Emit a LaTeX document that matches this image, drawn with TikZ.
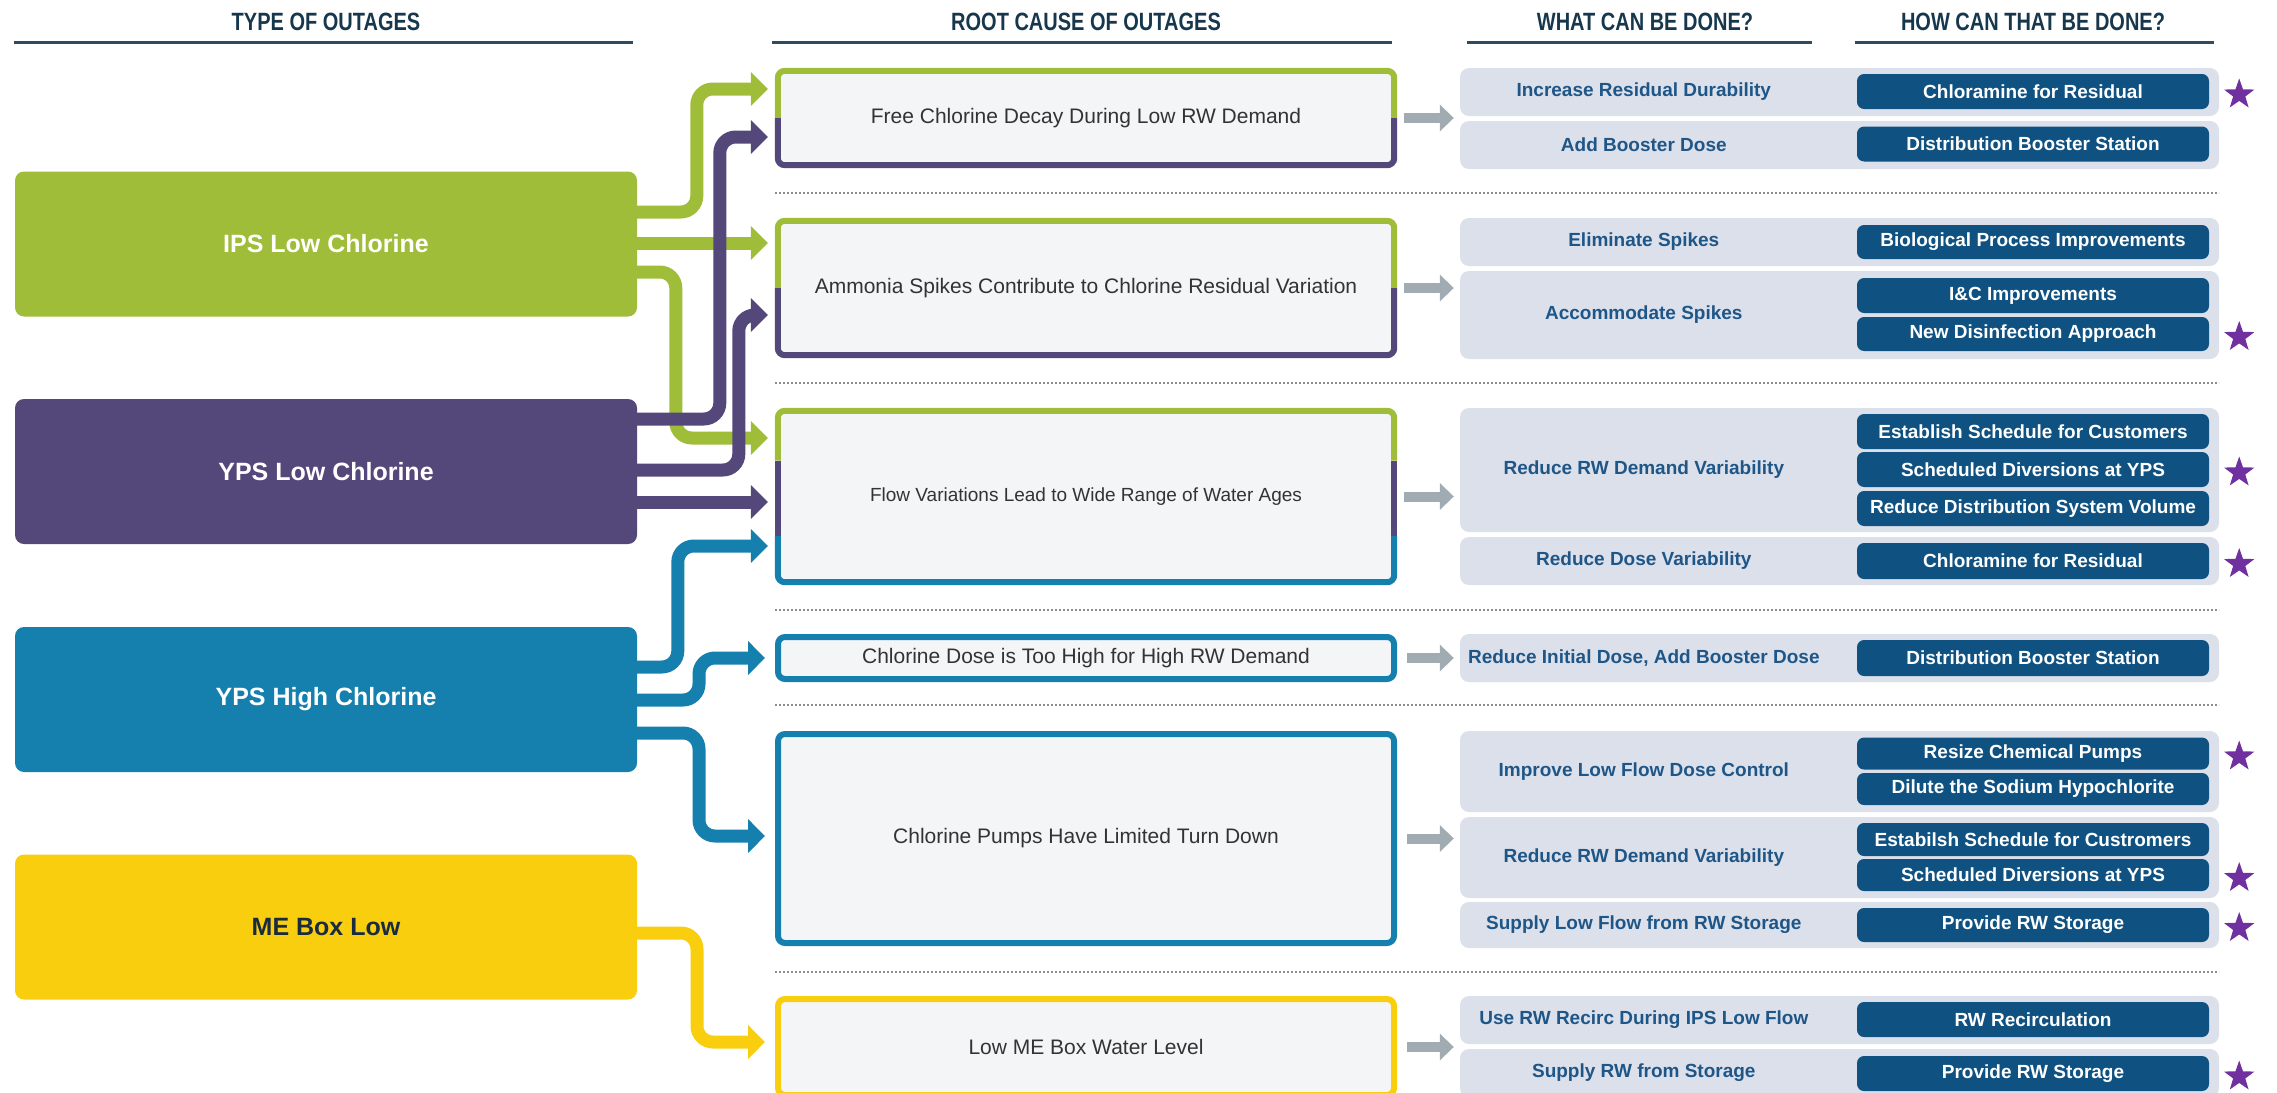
\documentclass[tikz,border=0pt]{standalone}
\usepackage{fontspec}
\setmainfont{Liberation Sans}
\newfontfamily\headfont[FakeStretch=0.8]{Liberation Sans}
\usetikzlibrary{arrows.meta,calc,shapes.geometric}

\definecolor{cgreen}{HTML}{A0BD3A}
\definecolor{cpurple}{HTML}{54477A}
\definecolor{cblue}{HTML}{1580AE}
\definecolor{cyellow}{HTML}{F8CE0E}
\definecolor{navy}{HTML}{17374D}
\definecolor{rulecol}{HTML}{2E4B5F}
\definecolor{boxfill}{HTML}{F4F5F7}
\definecolor{panelcol}{HTML}{DCE0EA}
\definecolor{btncol}{HTML}{0F5282}
\definecolor{whatcol}{HTML}{1F5688}
\definecolor{garrow}{HTML}{A1ACB2}
\definecolor{cstar}{HTML}{7030A0}
\definecolor{sepcol}{HTML}{8C8C8C}
\definecolor{rctext}{HTML}{333333}
\definecolor{metext}{HTML}{1A2B40}

\tikzset{
  head/.style={text=navy, font=\headfont\bfseries\fontsize{25}{28}\selectfont},
  headrule/.style={rulecol, line width=3pt},
  outage/.style={rounded corners=9pt, minimum width=622pt, minimum height=145pt,
    inner sep=0pt, text=white, font=\bfseries\fontsize{25}{30}\selectfont},
  cause/.style={fill=boxfill, rounded corners=7pt, minimum width=616pt, inner sep=0pt,
    text=rctext, font=\fontsize{21}{25}\selectfont},
  border/.style={line width=6pt, rounded corners=7pt},
  flow/.style={line width=13pt, rounded corners=16pt, -{Triangle[width=33pt,length=17pt]}},
  nextarrow/.style={garrow, line width=10pt, -{Triangle[width=26pt,length=14pt]}},
  panelbox/.style={fill=panelcol, rounded corners=9pt, minimum width=759pt, inner sep=0pt},
  what/.style={text=whatcol, font=\bfseries\fontsize{19}{22}\selectfont},
  btnbox/.style={fill=btncol, rounded corners=7pt, minimum width=352pt, inner sep=0pt,
    text=white, font=\bfseries\fontsize{19}{22}\selectfont},
  fav/.style={star, star points=5, star point ratio=2.5, fill=cstar, minimum size=32pt, inner sep=0pt},
  sepline/.style={sepcol, line width=1.5pt, dash pattern=on 2pt off 2pt},
}

\begin{document}
\begin{tikzpicture}[x=1pt,y=-1pt]
\useasboundingbox (0,0) rectangle (2277,1092);
\clip (0,0) rectangle (2277,1092);

% column headings
\node[head] (h1) at (326,22) {TYPE OF OUTAGES};
\node[head] (h2) at (1086,22) {ROOT CAUSE OF OUTAGES};
\node[head] (h3) at (1645,22) {WHAT CAN BE DONE?};
\node[head] (h4) at (2033,22) {HOW CAN THAT BE DONE?};
\draw[headrule] (14,42) -- (633,42);
\draw[headrule] (772,42) -- (1392,42);
\draw[headrule] (1467,42) -- (1812,42);
\draw[headrule] (1855,42) -- (2214,42);

% group separators
\foreach \yy in {193,383,610,705,972}
  \draw[sepline] (775,\yy) -- (2219,\yy);

% outage types
\node[outage, fill=cgreen] (ips) at (326,244) {IPS Low Chlorine};
\node[outage, fill=cpurple] (ypsl) at (326,471.5) {YPS Low Chlorine};
\node[outage, fill=cblue] (ypsh) at (326,699.5) {YPS High Chlorine};
\node[outage, fill=cyellow, text=metext] (me) at (326,927) {ME Box Low};

% root causes
\node[cause, minimum height=94pt] (rc1) at (1086,118) {Free Chlorine Decay During Low RW Demand};
\node[cause, minimum height=134pt] (rc2) at (1086,288) {Ammonia Spikes Contribute to Chlorine Residual Variation};
\node[cause, minimum height=171pt, font=\fontsize{19}{23}\selectfont] (rc3) at (1086,496.5) {Flow Variations Lead to Wide Range of Water Ages};
\node[cause, minimum height=42pt, draw=cblue, line width=6pt] (rc4) at (1086,658) {Chlorine Dose is Too High for High RW Demand};
\node[cause, minimum height=209pt, draw=cblue, line width=6pt] (rc5) at (1086,838.5) {Chlorine Pumps Have Limited Turn Down};
\node[cause, minimum height=96pt, draw=cyellow, line width=6pt] (rc6) at (1086,1047) {Low ME Box Water Level};

% two- and three-colour borders
\draw[border, cgreen] ($(rc1.north west)!0.5!(rc1.south west)$) |- (rc1.north) -| ($(rc1.north east)!0.5!(rc1.south east)$);
\draw[border, cpurple] ($(rc1.north west)!0.5!(rc1.south west)$) |- (rc1.south) -| ($(rc1.north east)!0.5!(rc1.south east)$);
\draw[border, cgreen] ($(rc2.north west)!0.5!(rc2.south west)$) |- (rc2.north) -| ($(rc2.north east)!0.5!(rc2.south east)$);
\draw[border, cpurple] ($(rc2.north west)!0.5!(rc2.south west)$) |- (rc2.south) -| ($(rc2.north east)!0.5!(rc2.south east)$);
\draw[border, cgreen] ($(rc3.north west)!0.29!(rc3.south west)$) |- (rc3.north) -| ($(rc3.north east)!0.29!(rc3.south east)$);
\draw[border, cpurple] ($(rc3.north west)!0.29!(rc3.south west)$) -- ($(rc3.north west)!0.73!(rc3.south west)$);
\draw[border, cpurple] ($(rc3.north east)!0.29!(rc3.south east)$) -- ($(rc3.north east)!0.73!(rc3.south east)$);
\draw[border, cblue] ($(rc3.north west)!0.73!(rc3.south west)$) |- (rc3.south) -| ($(rc3.north east)!0.73!(rc3.south east)$);

% connectors from outage types to root causes
\draw[flow, cgreen] ($(ips.east)+(0,-32)$) -| ($(rc1.west)+(-81,-29)$) -- ($(rc1.west)+(-10,-29)$);
\draw[flow, cgreen] ($(ips.east)+(0,-1)$) -- ($(rc2.west)+(-10,-45)$);
\draw[flow, cgreen] ($(ips.east)+(0,28)$) -| ($(rc3.west)+(-102,-58.5)$) -- ($(rc3.west)+(-10,-58.5)$);
\draw[flow, cpurple] ($(ypsl.east)+(0,-52.5)$) -| ($(rc1.west)+(-58,19)$) -- ($(rc1.west)+(-10,19)$);
\draw[flow, cpurple] ($(ypsl.east)+(0,-1.5)$) -| ($(rc2.west)+(-39,27)$) -- ($(rc2.west)+(-10,27)$);
\draw[flow, cpurple] ($(ypsl.east)+(0,30.5)$) -- ($(rc3.west)+(-10,5.5)$);
\draw[flow, cblue] ($(ypsh.east)+(0,-32.5)$) -| ($(rc3.west)+(-100,49.5)$) -- ($(rc3.west)+(-10,49.5)$);
\draw[flow, cblue] ($(ypsh.east)+(0,0.5)$) -| ($(rc4.west)+(-76,0)$) -- ($(rc4.west)+(-10,0)$);
\draw[flow, cblue] ($(ypsh.east)+(0,33.5)$) -| ($(rc5.west)+(-76,-2.5)$) -- ($(rc5.west)+(-10,-2.5)$);
\draw[flow, cyellow] ($(me.east)+(0,6)$) -| ($(rc6.west)+(-78,-5)$) -- ($(rc6.west)+(-10,-5)$);

% what can be done
\node[panelbox, minimum height=48pt] (a1) at (1839.5,92) {};
\node[panelbox, minimum height=48pt] (a2) at (1839.5,145) {};
\node[panelbox, minimum height=48pt] (a3) at (1839.5,242) {};
\node[panelbox, minimum height=88pt] (a4) at (1839.5,315) {};
\node[panelbox, minimum height=124pt] (a5) at (1839.5,470) {};
\node[panelbox, minimum height=48pt] (a6) at (1839.5,561) {};
\node[panelbox, minimum height=48pt] (a7) at (1839.5,658) {};
\node[panelbox, minimum height=81pt] (a8) at (1839.5,771.5) {};
\node[panelbox, minimum height=81pt] (a9) at (1839.5,857.5) {};
\node[panelbox, minimum height=46pt] (a10) at (1839.5,925) {};
\node[panelbox, minimum height=48pt] (a11) at (1839.5,1020) {};
\node[panelbox, minimum height=48pt] (a12) at (1839.5,1073) {};

\node[what] (w1) at ($(a1.west)+(184,0)$) {Increase Residual Durability};
\node[what] (w2) at ($(a2.west)+(184,0)$) {Add Booster Dose};
\node[what] (w3) at ($(a3.west)+(184,0)$) {Eliminate Spikes};
\node[what] (w4) at ($(a4.west)+(184,0)$) {Accommodate Spikes};
\node[what] (w5) at ($(a5.west)+(184,0)$) {Reduce RW Demand Variability};
\node[what] (w6) at ($(a6.west)+(184,0)$) {Reduce Dose Variability};
\node[what] (w7) at ($(a7.west)+(184,0)$) {Reduce Initial Dose, Add Booster Dose};
\node[what] (w8) at ($(a8.west)+(184,0)$) {Improve Low Flow Dose Control};
\node[what] (w9) at ($(a9.west)+(184,0)$) {Reduce RW Demand Variability};
\node[what] (w10) at ($(a10.west)+(184,0)$) {Supply Low Flow from RW Storage};
\node[what] (w11) at ($(a11.west)+(184,0)$) {Use RW Recirc During IPS Low Flow};
\node[what] (w12) at ($(a12.west)+(184,0)$) {Supply RW from Storage};

% how can that be done
\node[btnbox, minimum height=35pt] (b1) at (2033,91.5) {Chloramine for Residual};
\node[btnbox, minimum height=35pt] (b2) at (2033,144) {Distribution Booster Station};
\node[btnbox, minimum height=34pt] (b3) at (2033,242) {Biological Process Improvements};
\node[btnbox, minimum height=35pt] (b4) at (2033,295.5) {I\&C Improvements};
\node[btnbox, minimum height=34pt] (b5) at (2033,334) {New Disinfection Approach};
\node[btnbox, minimum height=35pt] (b6) at (2033,431.5) {Establish Schedule for Customers};
\node[btnbox, minimum height=35pt] (b7) at (2033,469.5) {Scheduled Diversions at YPS};
\node[btnbox, minimum height=35pt] (b8) at (2033,508.5) {Reduce Distribution System Volume};
\node[btnbox, minimum height=36pt] (b9) at (2033,561) {Chloramine for Residual};
\node[btnbox, minimum height=36pt] (b10) at (2033,658) {Distribution Booster Station};
\node[btnbox, minimum height=32pt] (b11) at (2033,753.5) {Resize Chemical Pumps};
\node[btnbox, minimum height=32pt] (b12) at (2033,789) {Dilute the Sodium Hypochlorite};
\node[btnbox, minimum height=33pt] (b13) at (2033,839.5) {Estabilsh Schedule for Custromers};
\node[btnbox, minimum height=32pt] (b14) at (2033,875) {Scheduled Diversions at YPS};
\node[btnbox, minimum height=34pt] (b15) at (2033,925) {Provide RW Storage};
\node[btnbox, minimum height=35pt] (b16) at (2033,1019.5) {RW Recirculation};
\node[btnbox, minimum height=35pt] (b17) at (2033,1073.5) {Provide RW Storage};

% stars
\foreach \b in {b1,b5,b7,b9,b11,b14,b15,b17}
  \node[fav] (s-\b) at ($(\b.east)+(30,3)$) {};

% arrows from root causes to actions
\draw[nextarrow] ($(rc1.east)+(10,0)$) -- ($(a1.west |- rc1.east)+(-6,0)$);
\draw[nextarrow] ($(rc2.east)+(10,0)$) -- ($(a4.west |- rc2.east)+(-6,0)$);
\draw[nextarrow] ($(rc3.east)+(10,0)$) -- ($(a5.west |- rc3.east)+(-6,0)$);
\draw[nextarrow] ($(rc4.east)+(10,0)$) -- ($(a7.west |- rc4.east)+(-6,0)$);
\draw[nextarrow] ($(rc5.east)+(10,0)$) -- ($(a9.west |- rc5.east)+(-6,0)$);
\draw[nextarrow] ($(rc6.east)+(10,0)$) -- ($(a11.west |- rc6.east)+(-6,0)$);
\end{tikzpicture}
\end{document}
